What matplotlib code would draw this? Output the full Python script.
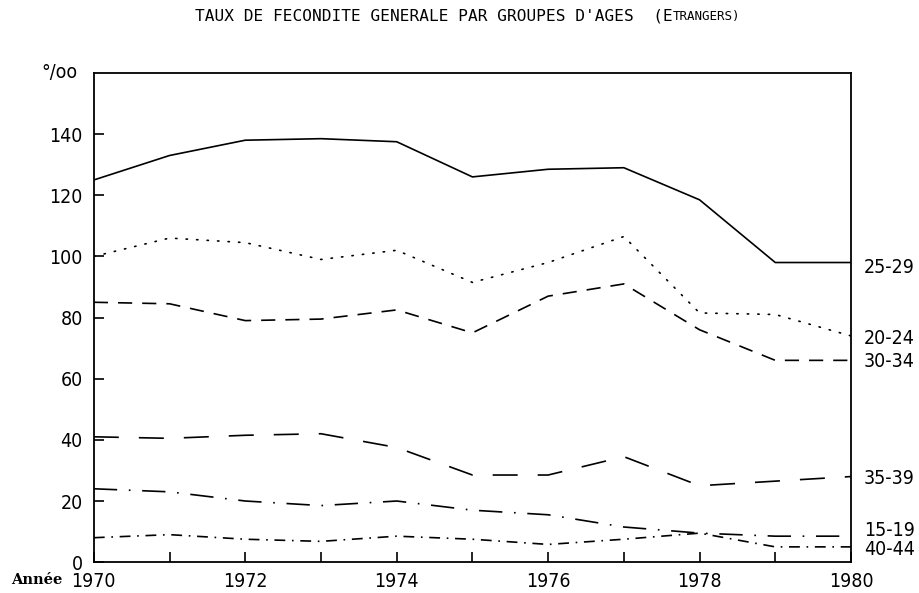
import matplotlib.pyplot as plt

# data (per mille)
years = [1970, 1971, 1972, 1973, 1974, 1975, 1976, 1977, 1978, 1979, 1980]
g15_19 = [24, 23, 20, 18.5, 20, 17, 15.5, 11.5, 9.5, 8.5, 8.5]
g20_24 = [100, 106, 104.5, 99, 102, 91.5, 98, 106.5, 81.5, 81, 74]
g25_29 = [125, 133, 138, 138.5, 137.5, 126, 128.5, 129, 118.5, 98, 98]
g30_34 = [85, 84.5, 79, 79.5, 82.5, 75, 87, 91, 76, 66, 66]
g35_39 = [41, 40.5, 41.5, 42, 37.5, 28.5, 28.5, 34.5, 25, 26.5, 28]
g40_44 = [8, 9, 7.5, 6.8, 8.5, 7.5, 5.8, 7.5, 9.5, 5, 5]
labels = ['15-19', '20-24', '25-29', '30-34', '35-39', '40-44']
label_y = [10.5, 73, 96.5, 65.5, 27.5, 4.2]

plt.rcParams['font.family'] = ['DejaVu Sans']
plt.rcParams['font.stretch'] = 'condensed'

fig = plt.figure(figsize=(9.2, 5.93), dpi=100)
ax = fig.add_axes([0.102, 0.052, 0.823, 0.825])

lw = 1.2
ax.plot(years, g25_29, color='black', lw=lw)
ax.plot(years, g20_24, color='black', lw=lw, linestyle=(0, (0.8, 5.5)), dash_capstyle='round')
ax.plot(years, g30_34, color='black', lw=lw, linestyle=(0, (8.5, 6)))
ax.plot(years, g35_39, color='black', lw=lw, linestyle=(0, (15, 12)))
ax.plot(years, g15_19, color='black', lw=lw, linestyle=(0, (14, 7, 1, 7)))
ax.plot(years, g40_44, color='black', lw=lw, linestyle=(0, (6.5, 4, 1, 4)))

ax.set_xlim(1970, 1980)
ax.set_ylim(0, 160)
ax.set_xticks(range(1970, 1981, 2))
ax.set_xticks(years, minor=True)
ax.set_yticks(range(0, 141, 20))
ax.tick_params(direction='in', length=7, width=1.2, labelsize=14)
ax.tick_params(which='minor', direction='in', length=7, width=1.2)
ax.tick_params(axis='x', pad=7)
ax.tick_params(axis='y', pad=8)
for s in ax.spines.values():
    s.set_linewidth(1.3)

for lab, yv in zip(labels, label_y):
    ax.text(1980.17, yv, lab, fontsize=14, va='center', ha='left')

ax.text(-0.045, 1.0, '°/oo', transform=ax.transAxes, fontsize=14, ha='center', va='center')
ax.text(-0.041, -0.037, 'Année', transform=ax.transAxes, fontsize=10.5, ha='right',
        va='center', family='DejaVu Serif', fontweight='bold', stretch='normal')

t = fig.text(0.212, 0.966, "TAUX DE FECONDITE GENERALE PAR GROUPES D'AGES  (E",
             fontsize=11.6, ha='left', va='baseline', family='DejaVu Sans Mono')
ax.annotate("TRANGERS)", xy=(1, 0), xycoords=t, fontsize=9, ha='left', va='bottom',
            family='DejaVu Sans Mono')

fig.savefig('out.png', dpi=100, facecolor='white')
